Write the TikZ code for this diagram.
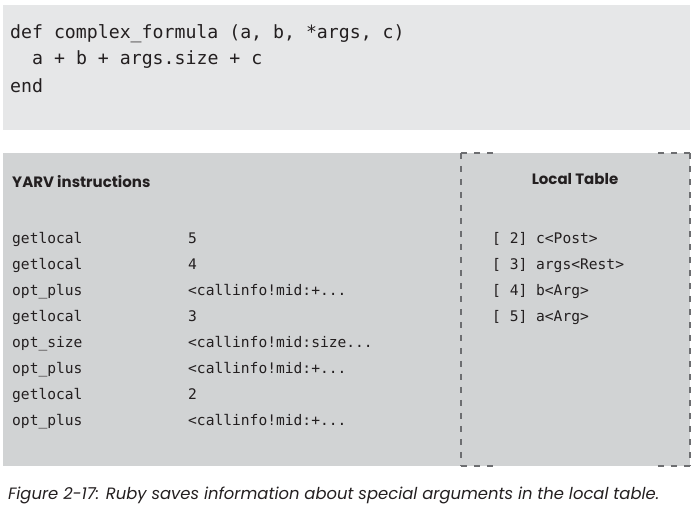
\documentclass[tikz,border=0pt]{standalone}
\usepackage{fontspec}
\setmonofont{DejaVu Sans Mono}
\newfontfamily\futfont{Poppins}
\definecolor{topgray}{HTML}{E6E7E8}
\definecolor{botgray}{HTML}{D1D3D4}
\definecolor{dashgray}{HTML}{6D6E71}
\definecolor{ink}{HTML}{231F20}
\tikzset{
  codetext/.style={anchor=base west, inner sep=0pt, text=ink, font=\ttfamily\fontsize{18.2}{20}\selectfont},
  instr/.style={anchor=base west, inner sep=0pt, text=ink, font=\ttfamily\fontsize{14.6}{16}\selectfont},
  heading/.style={inner sep=0pt, text=ink, font=\futfont\bfseries\fontsize{15}{17}\selectfont},
  captiontext/.style={anchor=base west, inner sep=0pt, text=ink, font=\futfont\itshape\fontsize{16.4}{18}\selectfont},
  tableborder/.style={draw=dashgray, line width=1.6pt, dash pattern=on 6pt off 7pt}
}
\begin{document}
\begin{tikzpicture}[x=1pt,y=1pt]
\useasboundingbox (0,0) rectangle (699,-518);
% top code box
\fill[topgray] (3,-5) rectangle (690,-130);
\node[codetext] (l1) at (10,-39) {def complex\_formula (a, b, *args, c)};
\node[codetext] (l2) at (32,-65) {a + b + args.size + c};
\node[codetext] (l3) at (10,-93) {end};
% lower box
\fill[botgray] (3,-153) rectangle (690,-466);
% dashed local-table frame (top and bottom edges only near the corners)
\coordinate (tl) at (461,-153);
\coordinate (tr) at (690,-153);
\coordinate (bl) at (461,-466);
\coordinate (br) at (690,-466);
\draw[tableborder] (tl) -- (bl);
\draw[tableborder] (tr) -- (br);
\draw[tableborder] (tl) -- ++(33,0);
\draw[tableborder] (bl) -- ++(33,0);
\draw[tableborder] (tr) -- ++(-33,0);
\draw[tableborder] (br) -- ++(-33,0);
\node[heading, anchor=base west] (yarv) at (12,-188) {YARV instructions};
\node[heading, anchor=base] (lt) at (575,-185) {Local Table};
% instructions
\foreach \i/\a/\b in {0/getlocal/5, 1/getlocal/4, 2/opt\_plus/{<callinfo!mid:+...}, 3/getlocal/3, 4/opt\_size/{<callinfo!mid:size...}, 5/opt\_plus/{<callinfo!mid:+...}, 6/getlocal/2, 7/opt\_plus/{<callinfo!mid:+...}}{
  \node[instr] (ia\i) at (12,{-244-26*\i}) {\a};
  \node[instr] (ib\i) at (188,{-244-26*\i}) {\b};
}
% local table
\foreach \i/\t in {0/{[ 2] c<Post>}, 1/{[ 3] args<Rest>}, 2/{[ 4] b<Arg>}, 3/{[ 5] a<Arg>}}{
  \node[instr] (lt\i) at (492,{-244-26*\i}) {\t};
}
\node[captiontext] (cap) at (8,-500) {Figure 2-17: Ruby saves information about special arguments in the local table.};
\end{tikzpicture}
\end{document}
